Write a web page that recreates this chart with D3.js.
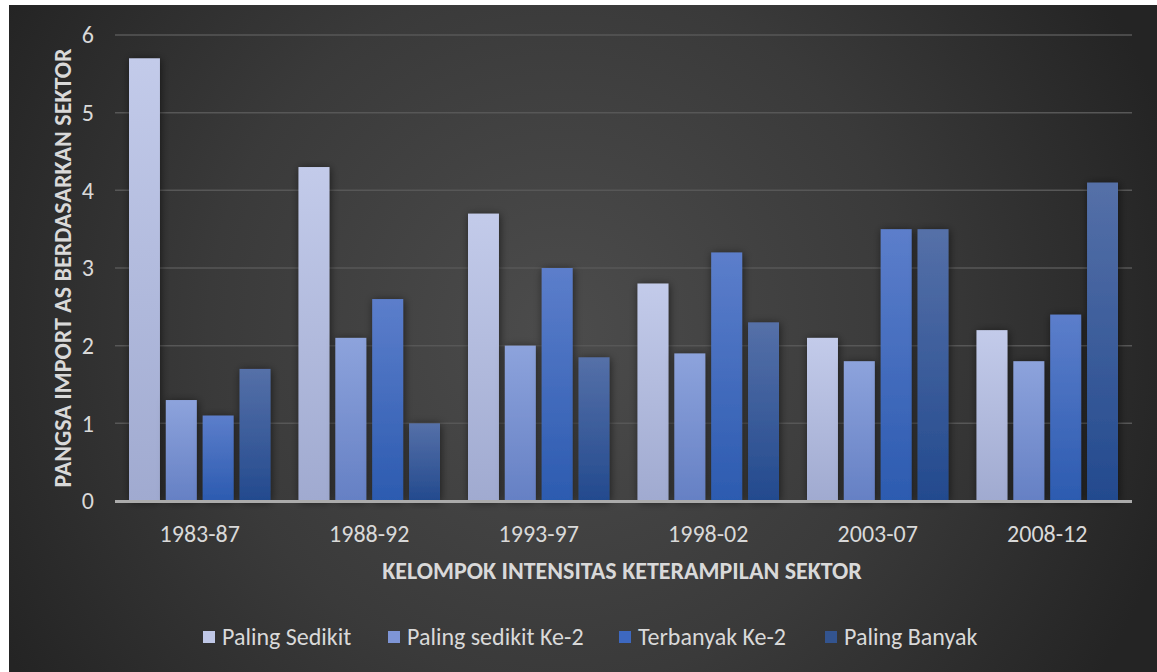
<!DOCTYPE html>
<html><head><meta charset="utf-8">
<script src="https://cdn.jsdelivr.net/npm/d3@7"></script>
<style>html,body{margin:0;padding:0;background:#fff;}svg{display:block;}</style>
</head><body>
<svg id="c" width="1157" height="672"></svg>
<script>
const categories = ["1983-87","1988-92","1993-97","1998-02","2003-07","2008-12"];
const seriesNames = ["Paling Sedikit","Paling sedikit Ke-2","Terbanyak Ke-2","Paling Banyak"];
const palingSedikit = [5.7, 4.3, 3.7, 2.8, 2.1, 2.2];
const palingSedikitKe2 = [1.3, 2.1, 2.0, 1.9, 1.8, 1.8];
const terbanyakKe2 = [1.1, 2.6, 3.0, 3.2, 3.5, 2.4];
const palingBanyak = [1.7, 1.0, 1.85, 2.3, 3.5, 4.1];
const yTicks = [0,1,2,3,4,5,6];
const yTitle = "PANGSA IMPORT AS BERDASARKAN SEKTOR";
const xTitle = "KELOMPOK INTENSITAS KETERAMPILAN SEKTOR";

(function(){
const seriesValues = [palingSedikit, palingSedikitKe2, terbanyakKe2, palingBanyak];
const gradStops = [["#c3cbea","#a0aad0"],["#8da3dc","#6580c4"],["#5c7ecb","#2c5bb0"],["#5570a8","#234a8e"]];
const legendColors = ["#bfc7e6","#7e95d6","#3d68c0","#33548f"];

const svg = d3.select("#c");
const defs = svg.append("defs");
const bg = defs.append("radialGradient").attr("id","bg").attr("gradientUnits","userSpaceOnUse")
  .attr("cx",560).attr("cy",330).attr("r",640);
bg.append("stop").attr("offset","0").attr("stop-color","#4c4c4c");
bg.append("stop").attr("offset","0.55").attr("stop-color","#3a3a3a");
bg.append("stop").attr("offset","1").attr("stop-color","#242424");
gradStops.forEach((s,i)=>{
  const g = defs.append("linearGradient").attr("id","g"+i).attr("x1",0).attr("y1",0).attr("x2",0).attr("y2",1);
  g.append("stop").attr("offset","0").attr("stop-color",s[0]);
  g.append("stop").attr("offset","1").attr("stop-color",s[1]);
});
const f = defs.append("filter").attr("id","sh").attr("x","-40%").attr("y","-10%").attr("width","180%").attr("height","120%");
f.append("feDropShadow").attr("dx",1).attr("dy",1).attr("stdDeviation",4).attr("flood-color","#000").attr("flood-opacity",0.55);

svg.append("rect").attr("x",9).attr("y",5).attr("width",1148).attr("height",667).attr("fill","url(#bg)");

const font = "Calibri, Carlito, 'Open Sans', sans-serif";
const pl=115, pr=1132, pt=35, pb=501;
const x0 = d3.scaleBand().domain(categories).range([pl,pr]).padding(0);
const x1 = d3.scaleBand().domain(d3.range(4)).range([14, x0.bandwidth()-14]).paddingInner(0.16);
const y = d3.scaleLinear().domain([0,6]).range([pb,pt]);

svg.append("g").selectAll("line").data(yTicks.filter(t=>t>0)).join("line")
  .attr("x1",pl).attr("x2",pr).attr("y1",d=>y(d)).attr("y2",d=>y(d))
  .attr("stroke","#575757").attr("stroke-width",1.5);

svg.append("g").selectAll("text").data(yTicks).join("text")
  .attr("x",94).attr("y",d=>y(d)).attr("dy","0.35em").attr("text-anchor","end")
  .attr("fill","#d9d9d9").attr("font-family",font).attr("font-size",24).text(d=>d);

const groups = svg.append("g").selectAll("g").data(categories).join("g")
  .attr("transform",d=>`translate(${x0(d)},0)`);
groups.selectAll("rect").data((d,ci)=>seriesValues.map((s,si)=>({si,v:s[ci]}))).join("rect")
  .attr("x",d=>x1(d.si)).attr("width",x1.bandwidth())
  .attr("y",d=>y(d.v)).attr("height",d=>y(0)-y(d.v))
  .attr("fill",d=>`url(#g${d.si})`).attr("filter","url(#sh)");

svg.append("line").attr("x1",pl).attr("x2",pr).attr("y1",y(0)+0.5).attr("y2",y(0)+0.5)
  .attr("stroke","#ababab").attr("stroke-width",3);

svg.append("g").selectAll("text").data(categories).join("text")
  .attr("x",d=>x0(d)+x0.bandwidth()/2).attr("y",534).attr("dy","0.35em").attr("text-anchor","middle")
  .attr("fill","#d9d9d9").attr("font-family",font).attr("font-size",24).text(d=>d);

svg.append("text").attr("x",622).attr("y",571).attr("dy","0.35em").attr("text-anchor","middle")
  .attr("fill","#d9d9d9").attr("font-family",font).attr("font-size",24).attr("font-weight","bold").text(xTitle);
svg.append("text").attr("transform","translate(63,268) rotate(-90)").attr("dy","0.35em").attr("text-anchor","middle")
  .attr("fill","#d9d9d9").attr("font-family",font).attr("font-size",24).attr("font-weight","bold").text(yTitle);

const legX = [203, 388, 619, 825];
const leg = svg.append("g").selectAll("g").data(seriesNames).join("g")
  .attr("transform",(d,i)=>`translate(${legX[i]},637)`);
leg.append("rect").attr("x",0).attr("y",-6).attr("width",12).attr("height",12).attr("fill",(d,i)=>legendColors[i]);
leg.append("text").attr("x",19).attr("y",0).attr("dy","0.35em").attr("fill","#d9d9d9")
  .attr("font-family",font).attr("font-size",24).text(d=>d);
})();
</script>
</body></html>
